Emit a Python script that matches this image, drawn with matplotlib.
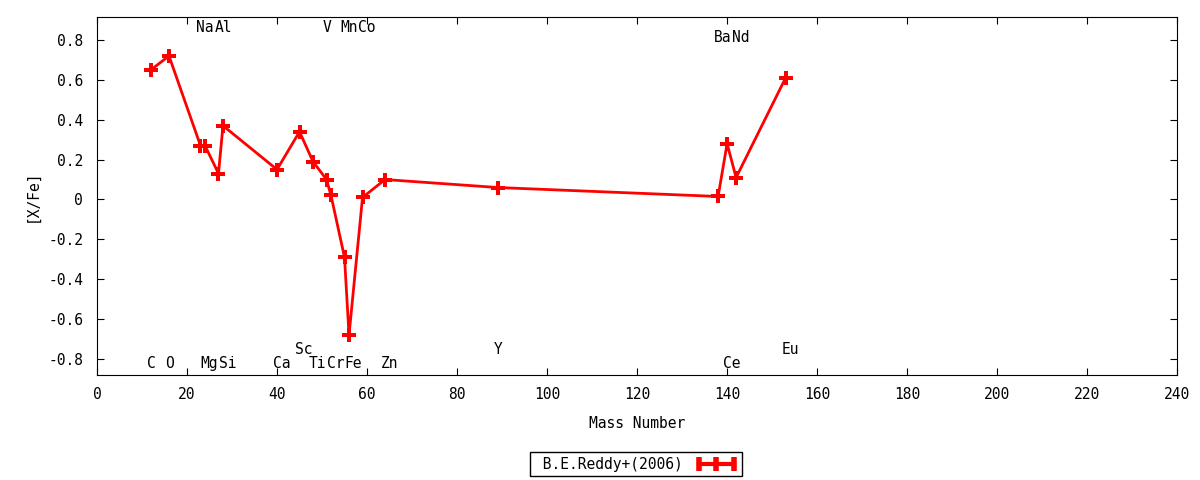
import matplotlib
matplotlib.use('Agg')
import matplotlib.pyplot as plt
from matplotlib.lines import Line2D

plt.rcParams['font.family'] = ['DejaVu Sans Mono']
plt.rcParams['font.size'] = 9.5

# Element abundances, B.E.Reddy+(2006)
elements = ['C', 'O', 'Na', 'Mg', 'Al', 'Si', 'Ca', 'Sc', 'Ti', 'V', 'Cr', 'Mn',
            'Fe', 'Co', 'Zn', 'Y', 'Ba', 'Ce', 'Nd', 'Eu']
mass = [12, 16, 23, 24, 27, 28, 40, 45, 48, 51, 52, 55,
        56, 59, 64, 89, 138, 140, 142, 153]
x_fe = [0.65, 0.72, 0.27, 0.27, 0.13, 0.37, 0.15, 0.34, 0.19, 0.10, 0.02, -0.29,
        -0.68, 0.01, 0.10, 0.06, 0.015, 0.28, 0.11, 0.61]
# vertical level of each element label
label_y = [-0.82, -0.82, 0.86, -0.82, 0.86, -0.82, -0.82, -0.75, -0.82, 0.86, -0.82, 0.86,
           -0.82, 0.86, -0.82, -0.75, 0.81, -0.82, 0.81, -0.75]

fig = plt.figure(figsize=(12, 4.8), dpi=100)
ax = fig.add_axes([0.0808, 0.2188, 0.9002, 0.7458])

ax.plot(mass, x_fe, color='#ff0000', linewidth=2, marker='P', markersize=10.5,
        markeredgewidth=0, label='B.E.Reddy+(2006)')

for name, m, ly in zip(elements, mass, label_y):
    ax.annotate(name, xy=(m, ly), xytext=(-3, 0), textcoords='offset points',
                ha='left', va='center', fontsize=10.5)

ax.set_xlim(0, 240)
ax.set_ylim(-0.88, 0.915)
ax.set_xticks(range(0, 241, 20))
ax.set_yticks([-0.8, -0.6, -0.4, -0.2, 0, 0.2, 0.4, 0.6, 0.8])
ax.set_yticklabels(['-0.8', '-0.6', '-0.4', '-0.2', '0', '0.2', '0.4', '0.6', '0.8'])
ax.tick_params(direction='in', length=5, top=True, right=True, labelsize=10.5)
ax.tick_params(axis='x', pad=9)
ax.tick_params(axis='y', pad=10)
ax.set_xlabel('Mass Number', fontsize=10.5, labelpad=10)
ax.set_ylabel('[X/Fe]', fontsize=10.5, labelpad=6)

handle = Line2D([], [], color='#ff0000', linewidth=3, marker='|', markersize=10,
                markeredgewidth=4)
leg = fig.legend([handle], [' B.E.Reddy+(2006)'], loc='center', bbox_to_anchor=(0.53, 0.033),
                 markerfirst=False, numpoints=3, fancybox=False, framealpha=1,
                 edgecolor='black', fontsize=10.5, handlelength=3, borderpad=0.3)
leg.get_frame().set_linewidth(1)

fig.savefig('out.png', dpi=100)
